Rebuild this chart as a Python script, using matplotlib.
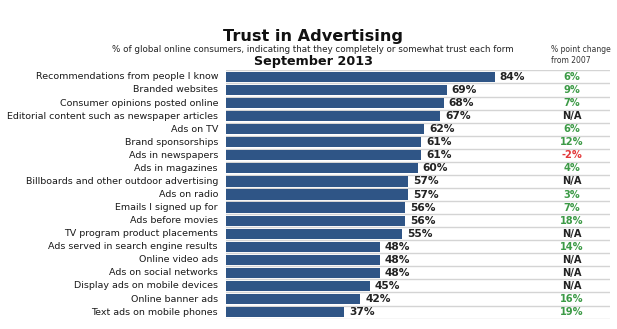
import matplotlib
matplotlib.use("Agg")
import matplotlib.pyplot as plt

categories = [
    "Recommendations from people I know",
    "Branded websites",
    "Consumer opinions posted online",
    "Editorial content such as newspaper articles",
    "Ads on TV",
    "Brand sponsorships",
    "Ads in newspapers",
    "Ads in magazines",
    "Billboards and other outdoor advertising",
    "Ads on radio",
    "Emails I signed up for",
    "Ads before movies",
    "TV program product placements",
    "Ads served in search engine results",
    "Online video ads",
    "Ads on social networks",
    "Display ads on mobile devices",
    "Online banner ads",
    "Text ads on mobile phones",
]
trust = [84, 69, 68, 67, 62, 61, 61, 60, 57, 57, 56, 56, 55, 48, 48, 48, 45, 42, 37]
change = [6, 9, 7, None, 6, 12, -2, 4, None, 3, 7, 18, None, 14, None, None, None, 16, 19]

BAR = "#2f5586"
GREEN = "#3c9a46"
RED = "#e2383a"

plt.rcParams["font.family"] = "DejaVu Sans"

fig = plt.figure(figsize=(6.17, 3.29), dpi=100)
ax = fig.add_axes([226 / 617, 0.0316, 384 / 617, 0.7564])

n = len(categories)
ypos = list(range(n))

ax.barh(ypos, trust, height=0.78, color=BAR, zorder=3)

# row separators
for i in range(-1, n):
    ax.axhline(i + 0.5, color="#d4d4d4", lw=1.0, zorder=1)

change_x = (572 - 226) / 3.2
for y, v, c, name in zip(ypos, trust, change, categories):
    ax.text(v + 1.5, y, f"{v}%", va="center", ha="left", fontsize=7.7,
            fontweight="bold", color="#222222")
    ax.text(-2.5, y, name, va="center", ha="right", fontsize=6.8, color="#1a1a1a")
    if c is None:
        txt, col = "N/A", "#222222"
    else:
        txt, col = f"{c}%", (RED if c < 0 else GREEN)
    ax.text(change_x, y, txt, va="center", ha="center", fontsize=7.1,
            fontweight="bold", color=col)

ax.set_xlim(0, 120)
ax.set_ylim(n - 0.5, -0.55)
ax.axis("off")

fig.text(313 / 617, 1 - 36 / 329, "Trust in Advertising", ha="center", va="center",
         fontsize=11.6, fontweight="bold", color="#111111")
fig.text(313 / 617, 1 - 50 / 329,
         "% of global online consumers, indicating that they completely or somewhat trust each form",
         ha="center", va="center", fontsize=6.3, color="#222222")
fig.text(313 / 617, 1 - 61 / 329, "September 2013", ha="center", va="center",
         fontsize=9.2, fontweight="bold", color="#111111")
fig.text(551 / 617, 1 - 55 / 329, "% point change\nfrom 2007", ha="left", va="center",
         fontsize=5.5, color="#333333", linespacing=1.3)

fig.savefig("out.png", dpi=100)
